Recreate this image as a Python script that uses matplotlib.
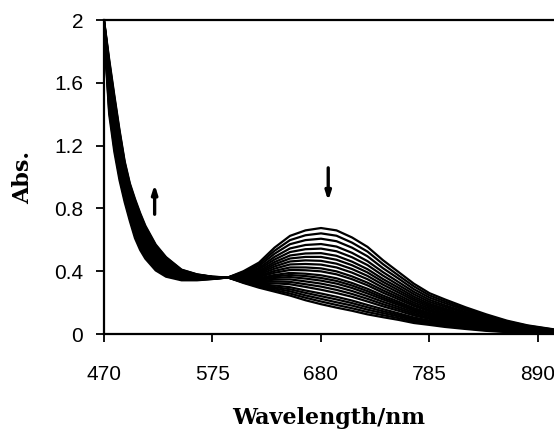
import matplotlib
matplotlib.use("Agg")
import matplotlib.pyplot as plt

# Wavelength grid (nm)
wavelength = [470, 475, 480, 485, 490, 495, 500, 505, 510, 520, 530, 545, 560, 575,
              590,
              605, 620, 635, 650, 665, 680, 695, 710, 725, 740, 755, 770, 785, 800,
              820, 840, 860, 880, 905]

# Absorbance spectra (first -> last)
spec_01 = [1.930, 1.400, 1.160, 0.980, 0.840, 0.720, 0.610, 0.535, 0.480, 0.405, 0.365, 0.342, 0.342, 0.350,
           0.360,
           0.400, 0.455, 0.550, 0.625, 0.660, 0.675, 0.660, 0.615, 0.555, 0.470, 0.395, 0.320, 0.260, 0.220,
           0.170, 0.125, 0.085, 0.055, 0.030]
spec_02 = [1.935, 1.425, 1.185, 1.002, 0.858, 0.737, 0.628, 0.551, 0.495, 0.417, 0.374, 0.347, 0.345, 0.351,
           0.360,
           0.395, 0.444, 0.530, 0.598, 0.629, 0.641, 0.626, 0.582, 0.525, 0.445, 0.373, 0.303, 0.246, 0.208,
           0.160, 0.118, 0.080, 0.052, 0.028]
spec_03 = [1.940, 1.449, 1.210, 1.025, 0.876, 0.754, 0.645, 0.568, 0.509, 0.428, 0.383, 0.352, 0.347, 0.352,
           0.360,
           0.390, 0.433, 0.511, 0.572, 0.598, 0.607, 0.591, 0.550, 0.495, 0.419, 0.353, 0.285, 0.232, 0.196,
           0.151, 0.110, 0.075, 0.048, 0.026]
spec_04 = [1.945, 1.474, 1.236, 1.047, 0.895, 0.770, 0.663, 0.584, 0.524, 0.440, 0.391, 0.356, 0.350, 0.353,
           0.360,
           0.384, 0.421, 0.491, 0.545, 0.567, 0.573, 0.557, 0.517, 0.464, 0.394, 0.331, 0.268, 0.218, 0.183,
           0.141, 0.103, 0.070, 0.045, 0.024]
spec_05 = [1.949, 1.495, 1.257, 1.066, 0.910, 0.785, 0.678, 0.598, 0.537, 0.450, 0.399, 0.360, 0.352, 0.354,
           0.360,
           0.380, 0.412, 0.474, 0.522, 0.540, 0.544, 0.527, 0.489, 0.439, 0.372, 0.312, 0.253, 0.205, 0.173,
           0.133, 0.097, 0.065, 0.042, 0.023]
spec_06 = [1.953, 1.516, 1.279, 1.086, 0.926, 0.799, 0.693, 0.613, 0.549, 0.459, 0.406, 0.364, 0.355, 0.355,
           0.360,
           0.375, 0.402, 0.458, 0.500, 0.513, 0.515, 0.498, 0.461, 0.413, 0.350, 0.295, 0.238, 0.193, 0.162,
           0.124, 0.090, 0.061, 0.039, 0.021]
spec_07 = [1.957, 1.533, 1.297, 1.102, 0.939, 0.811, 0.705, 0.624, 0.560, 0.468, 0.413, 0.368, 0.356, 0.356,
           0.360,
           0.372, 0.394, 0.444, 0.481, 0.491, 0.491, 0.473, 0.438, 0.392, 0.332, 0.279, 0.225, 0.183, 0.154,
           0.118, 0.085, 0.057, 0.037, 0.020]
spec_08 = [1.960, 1.551, 1.315, 1.118, 0.952, 0.823, 0.718, 0.636, 0.570, 0.476, 0.419, 0.371, 0.358, 0.356,
           0.360,
           0.368, 0.386, 0.430, 0.462, 0.469, 0.466, 0.448, 0.414, 0.370, 0.314, 0.264, 0.213, 0.173, 0.145,
           0.111, 0.080, 0.054, 0.034, 0.018]
spec_09 = [1.964, 1.568, 1.333, 1.134, 0.965, 0.835, 0.730, 0.648, 0.581, 0.484, 0.425, 0.375, 0.360, 0.357,
           0.360,
           0.364, 0.378, 0.416, 0.443, 0.446, 0.442, 0.424, 0.391, 0.349, 0.295, 0.248, 0.200, 0.163, 0.136,
           0.104, 0.075, 0.050, 0.032, 0.017]
spec_10 = [1.967, 1.586, 1.351, 1.150, 0.978, 0.847, 0.743, 0.660, 0.591, 0.492, 0.431, 0.378, 0.362, 0.358,
           0.360,
           0.360, 0.370, 0.402, 0.424, 0.424, 0.418, 0.399, 0.367, 0.327, 0.278, 0.234, 0.188, 0.153, 0.127,
           0.097, 0.069, 0.046, 0.030, 0.016]
spec_11 = [1.970, 1.600, 1.365, 1.162, 0.988, 0.857, 0.753, 0.669, 0.600, 0.499, 0.436, 0.381, 0.364, 0.359,
           0.360,
           0.357, 0.364, 0.390, 0.408, 0.406, 0.399, 0.380, 0.349, 0.310, 0.263, 0.221, 0.178, 0.145, 0.120,
           0.091, 0.065, 0.043, 0.028, 0.015]
spec_12 = [1.973, 1.617, 1.383, 1.178, 1.001, 0.869, 0.765, 0.681, 0.610, 0.507, 0.443, 0.384, 0.366, 0.359,
           0.360,
           0.354, 0.356, 0.376, 0.389, 0.384, 0.374, 0.355, 0.325, 0.288, 0.245, 0.206, 0.165, 0.135, 0.112,
           0.084, 0.060, 0.040, 0.025, 0.013]
spec_13 = [1.976, 1.629, 1.396, 1.190, 1.010, 0.877, 0.774, 0.689, 0.618, 0.513, 0.447, 0.387, 0.367, 0.360,
           0.360,
           0.351, 0.350, 0.367, 0.376, 0.369, 0.357, 0.338, 0.309, 0.273, 0.232, 0.195, 0.156, 0.128, 0.105,
           0.080, 0.056, 0.037, 0.024, 0.012]
spec_14 = [1.978, 1.642, 1.408, 1.201, 1.019, 0.886, 0.783, 0.697, 0.625, 0.519, 0.451, 0.389, 0.368, 0.360,
           0.360,
           0.348, 0.345, 0.357, 0.363, 0.353, 0.340, 0.321, 0.293, 0.258, 0.220, 0.185, 0.148, 0.121, 0.099,
           0.075, 0.053, 0.035, 0.022, 0.011]
spec_15 = [1.981, 1.656, 1.423, 1.214, 1.030, 0.895, 0.793, 0.707, 0.633, 0.525, 0.456, 0.392, 0.370, 0.361,
           0.360,
           0.345, 0.338, 0.346, 0.348, 0.335, 0.321, 0.301, 0.274, 0.241, 0.205, 0.172, 0.138, 0.113, 0.092,
           0.069, 0.048, 0.032, 0.020, 0.010]
spec_16 = [1.984, 1.670, 1.437, 1.226, 1.040, 0.905, 0.803, 0.716, 0.642, 0.532, 0.461, 0.394, 0.371, 0.362,
           0.360,
           0.342, 0.332, 0.334, 0.332, 0.317, 0.302, 0.281, 0.255, 0.224, 0.190, 0.160, 0.128, 0.104, 0.085,
           0.064, 0.044, 0.029, 0.018, 0.009]
spec_17 = [1.987, 1.684, 1.452, 1.239, 1.051, 0.914, 0.813, 0.725, 0.650, 0.539, 0.466, 0.397, 0.373, 0.362,
           0.360,
           0.339, 0.325, 0.323, 0.317, 0.300, 0.282, 0.261, 0.237, 0.207, 0.176, 0.148, 0.118, 0.096, 0.078,
           0.058, 0.040, 0.026, 0.016, 0.008]
spec_18 = [1.990, 1.701, 1.470, 1.255, 1.064, 0.926, 0.825, 0.737, 0.661, 0.547, 0.473, 0.400, 0.375, 0.363,
           0.360,
           0.336, 0.317, 0.309, 0.298, 0.277, 0.258, 0.237, 0.213, 0.185, 0.158, 0.132, 0.105, 0.086, 0.070,
           0.051, 0.035, 0.022, 0.014, 0.007]
spec_19 = [1.993, 1.713, 1.482, 1.266, 1.073, 0.935, 0.834, 0.745, 0.668, 0.553, 0.477, 0.403, 0.376, 0.363,
           0.360,
           0.333, 0.312, 0.299, 0.285, 0.262, 0.241, 0.220, 0.197, 0.170, 0.145, 0.122, 0.096, 0.079, 0.063,
           0.046, 0.031, 0.020, 0.012, 0.006]
spec_20 = [1.995, 1.726, 1.495, 1.278, 1.082, 0.943, 0.843, 0.754, 0.675, 0.558, 0.481, 0.405, 0.377, 0.364,
           0.360,
           0.330, 0.306, 0.290, 0.272, 0.246, 0.224, 0.202, 0.181, 0.155, 0.133, 0.112, 0.088, 0.072, 0.057,
           0.042, 0.027, 0.017, 0.010, 0.005]
spec_21 = [1.998, 1.738, 1.507, 1.289, 1.091, 0.952, 0.851, 0.762, 0.683, 0.564, 0.486, 0.408, 0.379, 0.364,
           0.360,
           0.328, 0.301, 0.280, 0.258, 0.231, 0.207, 0.185, 0.164, 0.140, 0.120, 0.101, 0.079, 0.065, 0.051,
           0.037, 0.024, 0.015, 0.009, 0.004]
spec_22 = [2.000, 1.750, 1.520, 1.300, 1.100, 0.960, 0.860, 0.770, 0.690, 0.570, 0.490, 0.410, 0.380, 0.365,
           0.360,
           0.325, 0.295, 0.270, 0.245, 0.215, 0.190, 0.168, 0.148, 0.125, 0.107, 0.090, 0.070, 0.058, 0.045,
           0.032, 0.020, 0.012, 0.007, 0.003]

spectra = [spec_01, spec_02, spec_03, spec_04, spec_05, spec_06, spec_07, spec_08, spec_09,
           spec_10, spec_11, spec_12, spec_13, spec_14, spec_15, spec_16, spec_17, spec_18,
           spec_19, spec_20, spec_21, spec_22]

x_ticks = [470, 575, 680, 785, 890]
y_ticks = [0, 0.4, 0.8, 1.2, 1.6, 2]
y_tick_labels = ["0", "0.4", "0.8", "1.2", "1.6", "2"]

W, H = 554, 434
fig = plt.figure(figsize=(W / 100, H / 100), dpi=100)
ax = fig.add_axes([104 / W, 100 / H, 450 / W, 314 / H])

for s in spectra:
    ax.plot(wavelength, s, color="black", lw=1.6, solid_joinstyle="round")

ax.set_xlim(470, 905.5)
ax.set_ylim(0, 2)
ax.set_xticks(x_ticks)
ax.set_yticks(y_ticks)
ax.set_yticklabels(y_tick_labels)

for side in ["left", "bottom", "top"]:
    ax.spines[side].set_linewidth(1.6)
    ax.spines[side].set_color("black")
ax.spines["right"].set_visible(False)

ax.tick_params(axis="y", direction="out", length=6, width=1.3, pad=9,
               labelsize=15, labelfontfamily="Liberation Sans")
ax.tick_params(axis="x", direction="out", length=6, width=1.3, pad=16,
               labelsize=15, labelfontfamily="Liberation Sans")

ax.set_xlabel("Wavelength/nm", fontsize=16, fontweight="bold",
              family="DejaVu Serif", labelpad=17)
ax.set_ylabel("Abs.", fontsize=16, fontweight="bold",
              family="DejaVu Serif", labelpad=14)

# Arrows indicating the direction of change
ax.annotate("", xy=(519, 0.97), xytext=(519, 0.745),
            arrowprops=dict(arrowstyle="-|>,head_length=0.5,head_width=0.16",
                            color="black", lw=2.4))
ax.annotate("", xy=(687, 0.83), xytext=(687, 1.076),
            arrowprops=dict(arrowstyle="-|>,head_length=0.5,head_width=0.16",
                            color="black", lw=2.4))

fig.savefig("out.png", dpi=100)
